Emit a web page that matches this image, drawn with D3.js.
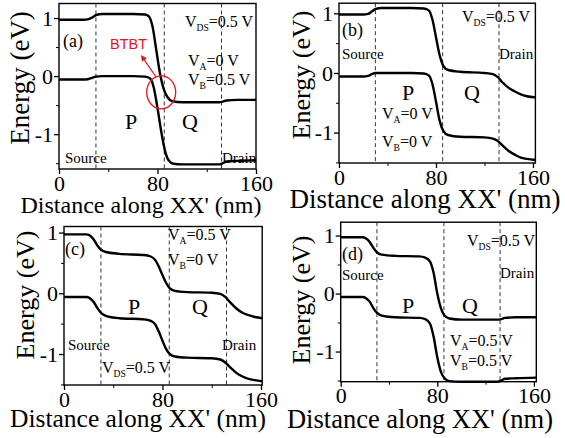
<!DOCTYPE html>
<html><head><meta charset="utf-8">
<script src="https://cdn.jsdelivr.net/npm/d3@7"></script>
<style>
body{margin:0;background:#fff}
svg{display:block}
</style>
</head><body>
<svg id="chart" width="565" height="438"></svg>
<script>
// ---------------- data ----------------
const xTicks = [0, 80, 160];
const xMinorTicks = [40, 120];
const yTicks = [1, 0, -1];
const yTickLabels = ["1", "0", "-1"];
const yMinorTicks = [0.5, -0.5, -1.5];
const regionBounds = [30, 85.5, 132];
const xAxisTitle = "Distance along XX' (nm)";
const yAxisTitle = "Energy (eV)";

// conduction (upper) and valence (lower) band edges, [x (nm), E (eV)]
const upperA = [[0,0.97],[20,0.97],[24,0.98],[27,1.01],[30,1.05],[35,1.07],[60,1.07],[70,1.06],[73,1.03],[76,0.85],[79,0.45],[82,0.05],[85,-0.22],[88,-0.36],[92,-0.43],[100,-0.45],[130,-0.45],[133,-0.44],[136,-0.42],[145,-0.41],[160,-0.41]];
const lowerA = [[0,-0.06],[20,-0.06],[24,-0.05],[27,-0.03],[30,-0.01],[35,0.0],[60,0.0],[70,-0.01],[74,-0.04],[77,-0.2],[80,-0.55],[83,-0.95],[86,-1.28],[89,-1.45],[93,-1.51],[100,-1.52],[130,-1.52],[133,-1.5],[136,-1.47],[145,-1.46],[160,-1.45]];

const upperB = [[0,0.98],[20,0.98],[24,0.99],[27,1.03],[30,1.07],[35,1.09],[60,1.09],[70,1.08],[74,1.05],[77,0.9],[80,0.6],[83,0.3],[86,0.12],[90,0.05],[100,0.02],[120,0.0],[127,-0.02],[131,-0.07],[135,-0.16],[140,-0.25],[145,-0.31],[150,-0.36],[155,-0.39],[162,-0.41]];
const lowerB = [[0,-0.06],[20,-0.06],[24,-0.05],[27,-0.02],[30,0.0],[35,0.0],[60,0.0],[70,-0.01],[74,-0.04],[77,-0.18],[80,-0.48],[83,-0.8],[86,-0.97],[90,-1.04],[100,-1.07],[120,-1.08],[127,-1.1],[131,-1.14],[135,-1.22],[140,-1.31],[145,-1.37],[150,-1.42],[155,-1.44],[162,-1.46]];

const upperC = [[0,0.97],[18,0.97],[21,0.95],[24,0.89],[27,0.79],[30,0.72],[34,0.68],[45,0.65],[65,0.63],[70,0.61],[74,0.55],[77,0.44],[80,0.3],[83,0.17],[86,0.08],[90,0.04],[100,0.02],[120,0.01],[127,-0.01],[131,-0.06],[135,-0.15],[140,-0.25],[145,-0.32],[150,-0.36],[155,-0.39],[161,-0.41]];
const lowerC = [[0,-0.06],[18,-0.06],[21,-0.08],[24,-0.14],[27,-0.24],[30,-0.32],[34,-0.37],[45,-0.41],[65,-0.43],[70,-0.45],[74,-0.51],[77,-0.63],[80,-0.78],[83,-0.92],[86,-1.0],[90,-1.04],[100,-1.06],[120,-1.07],[127,-1.09],[131,-1.14],[135,-1.22],[140,-1.31],[145,-1.37],[150,-1.41],[155,-1.43],[161,-1.45]];

const upperD = [[0,0.97],[18,0.97],[21,0.95],[24,0.89],[27,0.79],[30,0.71],[34,0.67],[45,0.65],[65,0.64],[70,0.62],[74,0.55],[77,0.35],[80,0.0],[83,-0.25],[86,-0.38],[90,-0.43],[100,-0.45],[130,-0.45],[133,-0.44],[136,-0.42],[145,-0.41],[162,-0.41]];
const lowerD = [[0,-0.06],[18,-0.06],[21,-0.08],[24,-0.14],[27,-0.25],[30,-0.33],[34,-0.38],[45,-0.41],[65,-0.42],[70,-0.44],[74,-0.52],[77,-0.75],[80,-1.1],[83,-1.35],[86,-1.46],[90,-1.51],[100,-1.52],[130,-1.52],[133,-1.5],[136,-1.47],[145,-1.46],[162,-1.45]];

// annotation texts ("main|sub|rest")
const textsA = ["(a)", "V|DS|=0.5 V", "V|A|=0 V", "V|B|=0.5 V", "P", "Q", "Source", "Drain"];
const textsB = ["(b)", "V|DS|=0.5 V", "V|A|=0 V", "V|B|=0 V", "P", "Q", "Source", "Drain"];
const textsC = ["(c)", "V|DS|=0.5 V", "V|A|=0.5 V", "V|B|=0 V", "P", "Q", "Source", "Drain"];
const textsD = ["(d)", "V|DS|=0.5 V", "V|A|=0.5 V", "V|B|=0.5 V", "P", "Q", "Source", "Drain"];
const btbtLabel = "BTBT";

// ---------------- layout ----------------
const SERIF = "'Liberation Serif', 'Times New Roman', Times, 'DejaVu Serif', serif";
const SANS = "'Liberation Sans', Arial, 'DejaVu Sans', sans-serif";

const panels = [
  {upper: upperA, lower: lowerA, texts: textsA,
   x0: 59, x1: 256, xmax: 160, yTop: 3.5, yBot: 169, ymin: -1.6, ymax: 1.25,
   xTitle: [141, 213, 24], yTitle: [29, 78, 27], tickFs: 22, tickOff: 5,
   pos: [[63,47,18],[185,27,16],[188,66,16],[188,85,16],[125,129,22],[182,129,22],[65,163,15],[222,163,15]]},
  {upper: upperB, lower: lowerB, texts: textsB,
   x0: 339, x1: 535.4, xmax: 162, yTop: 3.2, yBot: 163, ymin: -1.51, ymax: 1.17,
   xTitle: [425, 208, 27], yTitle: [310, 75, 26], tickFs: 22, tickOff: 5,
   pos: [[342,36,18],[462,22,16],[382,119,16],[382,147,16],[402,100,22],[464,100,22],[342,59,15],[499,59,15]]},
  {upper: upperC, lower: lowerC, texts: textsC,
   x0: 64, x1: 262.2, xmax: 161, yTop: 226.5, yBot: 385, ymin: -1.51, ymax: 1.1,
   xTitle: [138, 427, 25.5], yTitle: [34, 295, 26], tickFs: 22, tickOff: 5,
   pos: [[65,255,18],[102,373,16],[168,240,16],[168,265,16],[128,314,22],[192,314,22],[68,350,15],[222,350,15]]},
  {upper: upperD, lower: lowerD, texts: textsD,
   x0: 340.7, x1: 536.3, xmax: 162, yTop: 222.2, yBot: 381.7, ymin: -1.52, ymax: 1.23,
   xTitle: [420, 428, 26.5], yTitle: [310, 300, 26], tickFs: 22, tickOff: 5,
   pos: [[342,260,18],[467,246,16],[450,346,16],[450,366,16],[402,313,22],[462,313,22],[342,280,15],[500,278,15]]}
];

const svg = d3.select("#chart");

function addLabel(g, str, x, y, fs) {
  const parts = str.split("|");
  const t = g.append("text").attr("x", x).attr("y", y)
    .style("font-family", SERIF).style("font-size", fs + "px").style("fill", "#000");
  if (parts.length === 1) { t.text(str); return t; }
  t.append("tspan").text(parts[0]);
  t.append("tspan").style("font-size", (fs * 0.6) + "px").attr("dy", 4).text(parts[1]);
  t.append("tspan").attr("dy", -4).text(parts[2]);
  return t;
}

panels.forEach((p, i) => {
  const g = svg.append("g");
  const x = d3.scaleLinear().domain([0, p.xmax]).range([p.x0, p.x1]);
  const y = d3.scaleLinear().domain([p.ymin, p.ymax]).range([p.yBot, p.yTop]);

  // dashed region boundaries
  g.selectAll("line.div").data(regionBounds).join("line")
    .attr("x1", d => x(d)).attr("x2", d => x(d))
    .attr("y1", p.yTop).attr("y2", p.yBot)
    .attr("stroke", "#333").attr("stroke-width", 1).attr("stroke-dasharray", "4,3");

  // band curves
  const line = d3.line().x(d => x(d[0])).y(d => y(d[1])).curve(d3.curveMonotoneX);
  [p.upper, p.lower].forEach(s => {
    g.append("path").attr("d", line(s)).attr("fill", "none")
      .attr("stroke", "#000").attr("stroke-width", 2.4);
  });

  // frame
  g.append("rect").attr("x", p.x0).attr("y", p.yTop)
    .attr("width", p.x1 - p.x0).attr("height", p.yBot - p.yTop)
    .attr("fill", "none").attr("stroke", "#000").attr("stroke-width", 1.4);

  // axes
  const xa = g.append("g").attr("transform", `translate(0,${p.yBot})`)
    .call(d3.axisBottom(x).tickValues(xTicks).tickSize(5).tickFormat(d3.format("d")));
  xa.select(".domain").remove();
  xa.selectAll(".tick line").attr("stroke-width", 1.3);
  xa.selectAll(".tick text").style("font-size", p.tickFs + "px")
    .style("font-family", SERIF).attr("dy", "0.76em").attr("y", p.tickOff);
  const xm = g.append("g").attr("transform", `translate(0,${p.yBot})`)
    .call(d3.axisBottom(x).tickValues(xMinorTicks).tickSize(3).tickFormat(""));
  xm.select(".domain").remove();

  const ya = g.append("g").attr("transform", `translate(${p.x0},0)`)
    .call(d3.axisLeft(y).tickValues(yTicks).tickSize(5)
      .tickFormat((d, k) => yTickLabels[k]));
  ya.select(".domain").remove();
  ya.selectAll(".tick line").attr("stroke-width", 1.3);
  ya.selectAll(".tick text").style("font-size", p.tickFs + "px")
    .style("font-family", SERIF).attr("x", -6);
  const ym = g.append("g").attr("transform", `translate(${p.x0},0)`)
    .call(d3.axisLeft(y).tickValues(yMinorTicks).tickSize(3).tickFormat(""));
  ym.select(".domain").remove();

  // axis titles
  g.append("text").attr("x", p.xTitle[0]).attr("y", p.xTitle[1])
    .attr("text-anchor", "middle").style("font-family", SERIF)
    .style("font-size", p.xTitle[2] + "px").text(xAxisTitle);
  g.append("text").attr("transform", `translate(${p.yTitle[0]},${p.yTitle[1]}) rotate(-90)`)
    .attr("text-anchor", "middle").style("font-family", SERIF)
    .style("font-size", p.yTitle[2] + "px").text(yAxisTitle);

  // annotations
  p.texts.forEach((t, k) => addLabel(g, t, p.pos[k][0], p.pos[k][1], p.pos[k][2]));

  // BTBT marker in panel (a)
  if (i === 0) {
    g.append("ellipse").attr("cx", x(83)).attr("cy", y(-0.28))
      .attr("rx", 14.5).attr("ry", 16.5)
      .attr("fill", "none").attr("stroke", "#e8151b").attr("stroke-width", 1.3);
    const ax1 = 156, ay1 = 77, ax2 = 141, ay2 = 55;
    g.append("line").attr("x1", ax1).attr("y1", ay1).attr("x2", ax2 + 2).attr("y2", ay2 + 3)
      .attr("stroke", "#e8151b").attr("stroke-width", 1.3);
    const ang = Math.atan2(ay2 - ay1, ax2 - ax1);
    const L = 6, W = 3;
    const bx = ax2 - L * Math.cos(ang), by = ay2 - L * Math.sin(ang);
    g.append("path").attr("d", `M${ax2},${ay2}L${bx + W * Math.sin(ang)},${by - W * Math.cos(ang)}L${bx - W * Math.sin(ang)},${by + W * Math.cos(ang)}Z`)
      .attr("fill", "#e8151b");
    g.append("text").attr("x", 110).attr("y", 49)
      .style("font-size", "14.5px").style("font-family", SANS)
      .style("fill", "#e8151b").text(btbtLabel);
  }
});
</script>
</body></html>
